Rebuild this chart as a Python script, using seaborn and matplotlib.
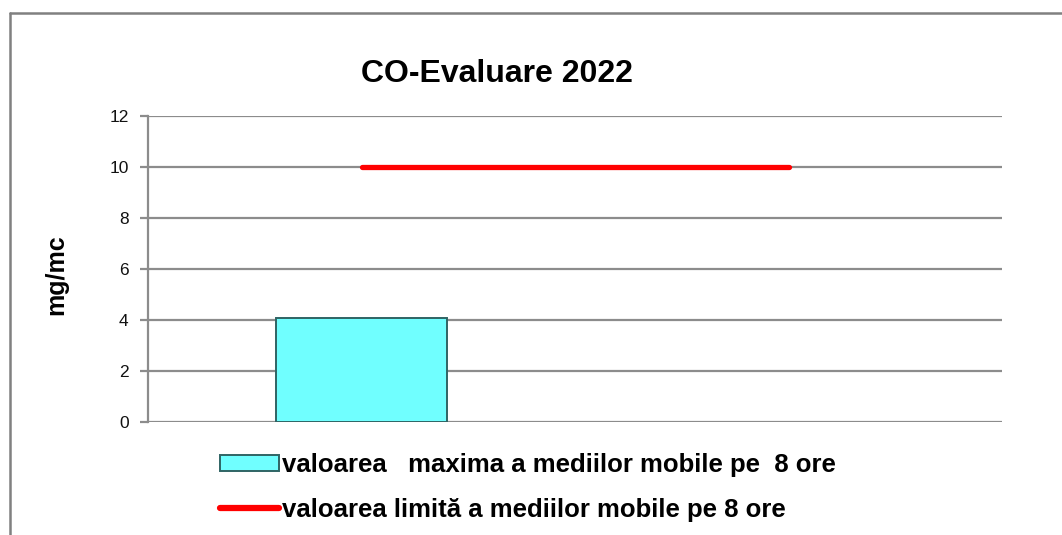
import matplotlib
matplotlib.use("Agg")
import matplotlib.pyplot as plt
import seaborn as sns
from matplotlib.patches import Patch
from matplotlib.lines import Line2D

# chart data
categories = ["1", "2"]
max_values = [4.08, float("nan")]   # valoarea maxima a mediilor mobile pe 8 ore
limit_values = [10.0, 10.0]         # valoarea limita
y_ticks = [0, 2, 4, 6, 8, 10, 12]

title = "CO-Evaluare 2022"
y_label = "mg/mc"
label_max = "valoarea   maxima a mediilor mobile pe  8 ore"
label_limit = "valoarea limită a mediilor mobile pe 8 ore"

sns.set_style("white")
plt.rcParams["font.family"] = ["Liberation Sans", "DejaVu Sans"]
plt.rcParams["text.color"] = "black"

fig = plt.figure(figsize=(10.62, 5.35), dpi=100)
ax = fig.add_axes([0.1394, 0.2112, 0.8041, 0.572])

sns.barplot(x=categories, y=max_values, width=0.4, color="#70FFFF",
            edgecolor="#2F6464", linewidth=1.4, saturation=1, ax=ax, zorder=3)
sns.lineplot(x=list(range(len(categories))), y=limit_values, color="#FF0000",
             linewidth=3.8, solid_capstyle="round", ax=ax, zorder=4)

ax.set_xlim(-0.5, len(categories) - 0.5)
ax.set_ylim(0, 12)
ax.set_yticks(y_ticks)
ax.set_xticks([])
ax.set_xlabel("")
ax.grid(axis="y", color="#8C8C8C", linewidth=1.6, zorder=0)
ax.set_axisbelow(True)
for side in ["top", "right", "bottom"]:
    ax.spines[side].set_visible(False)
ax.spines["left"].set_color("#8C8C8C")
ax.spines["left"].set_linewidth(1.6)
ax.tick_params(axis="y", left=True, length=6, width=1.6, color="#8C8C8C",
               labelsize=12.5, labelcolor="#111111", pad=8)
ax.set_ylabel(y_label, fontsize=18, fontweight="bold", color="black")
ax.yaxis.set_label_coords(-0.094, 0.48)

fig.text(0.468, 0.862, title, fontsize=23, fontweight="bold",
         ha="center", va="center", color="black")

handles = [Patch(facecolor="#70FFFF", edgecolor="#2F6464", linewidth=1.4),
           Line2D([0], [0], color="#FF0000", linewidth=4.5, solid_capstyle="round")]
fig.legend(handles, [label_max, label_limit], loc="upper left",
           bbox_to_anchor=(0.207, 0.153), frameon=False,
           prop={"size": 18.5, "weight": "bold"}, labelcolor="black",
           handlelength=2.3, handleheight=0.6, handletextpad=0.1,
           labelspacing=0.8, borderpad=0, borderaxespad=0)

# outer frame (left and top edges visible)
fig.add_artist(Line2D([0.0094, 0.0094], [0, 0.976], color="#808080",
                      linewidth=1.8, transform=fig.transFigure))
fig.add_artist(Line2D([0.0094, 1.0], [0.976, 0.976], color="#808080",
                      linewidth=1.8, transform=fig.transFigure))

fig.savefig("out.png", dpi=100)
